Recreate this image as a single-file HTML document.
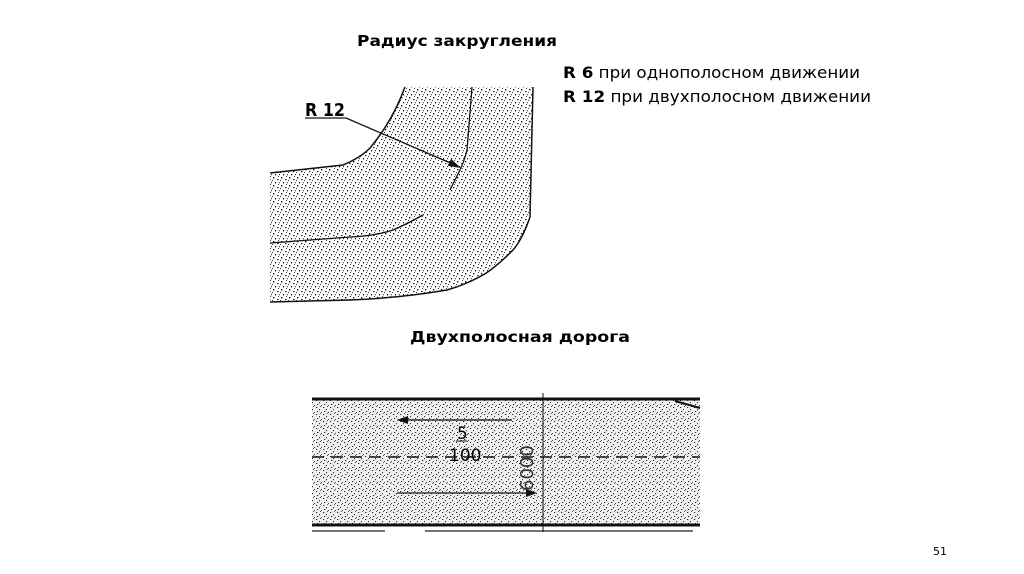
<!DOCTYPE html>
<html><head><meta charset="utf-8"><style>
html,body{margin:0;padding:0;background:#fff;}
svg{display:block;}
text{font-family:"DejaVu Sans","Liberation Sans",sans-serif;}
</style></head><body>
<svg width="1024" height="574" viewBox="0 0 1024 574" xmlns="http://www.w3.org/2000/svg">
<defs>
<pattern id="st" width="8" height="8" patternUnits="userSpaceOnUse">
<rect width="8" height="8" fill="#fff"/>
<rect x="1" y="1" width="1.4" height="1.4" fill="#111"/>
<rect x="5" y="3" width="1.5" height="1.1" fill="#222"/>
<rect x="3" y="6" width="1.1" height="1.4" fill="#111"/>
<rect x="7" y="6" width="1" height="1.2" fill="#333"/>
<rect x="6" y="0" width="1" height="1" fill="#444"/>
<rect x="0" y="4" width="1" height="1" fill="#333"/>
</pattern>
<pattern id="st2" width="7" height="7" patternUnits="userSpaceOnUse">
<rect width="7" height="7" fill="#f0f0f0"/>
<rect x="1" y="1" width="1.2" height="1" fill="#222"/>
<rect x="4" y="3" width="1" height="1.2" fill="#333"/>
<rect x="2" y="5" width="1.2" height="1" fill="#222"/>
<rect x="6" y="6" width="1" height="1" fill="#444"/>
<rect x="5" y="0" width="1" height="1" fill="#555"/>
</pattern>
</defs>

<text x="357" y="46" font-size="15" font-weight="bold" textLength="200" lengthAdjust="spacingAndGlyphs">Радиус закругления</text>
<text x="563" y="78" font-size="16" textLength="297" lengthAdjust="spacingAndGlyphs"><tspan font-weight="bold">R 6</tspan> при однополосном движении</text>
<text x="563" y="102" font-size="16" textLength="308" lengthAdjust="spacingAndGlyphs"><tspan font-weight="bold">R 12</tspan> при двухполосном движении</text>

<path d="M405,87 L533,87 L530,217 Q522,240 513,250 Q495,268 483,275 Q465,285 447,290 Q400,298 350,300 L270,302 L270,173 L343,165 Q360,158 370,148 Q390,120 395,110 Z" fill="url(#st)"/>
<path d="M405,87 Q400,100 395,110 Q385,130 370,148 Q360,158 343,165 L270,173" fill="none" stroke="#111" stroke-width="1.5"/>
<path d="M533,87 L530,217 Q522,240 513,250 Q495,268 483,275 Q465,285 447,290 Q400,298 350,300 L270,302" fill="none" stroke="#111" stroke-width="1.5"/>
<path d="M472,87 L467,150 Q464,162 460,170 L450,190" fill="none" stroke="#111" stroke-width="1.3"/>
<path d="M423,215 Q405,225 393,230 Q375,236 350,237 L270,243" fill="none" stroke="#111" stroke-width="1.3"/>
<line x1="305" y1="118" x2="346" y2="118" stroke="#111" stroke-width="1.3"/>
<line x1="346" y1="118" x2="455" y2="165" stroke="#111" stroke-width="1.3"/>
<polygon points="461,168 448,166 451,159" fill="#111"/>
<text x="305" y="116" font-size="18" font-weight="bold" textLength="40" lengthAdjust="spacingAndGlyphs">R 12</text>

<text x="410" y="342" font-size="15" font-weight="bold" textLength="220" lengthAdjust="spacingAndGlyphs">Двухполосная дорога</text>

<rect x="312" y="400" width="388" height="125" fill="url(#st2)"/>
<line x1="312" y1="399" x2="700" y2="399" stroke="#111" stroke-width="3"/>
<path d="M675,401 L700,408" stroke="#111" stroke-width="2"/>
<line x1="312" y1="525" x2="700" y2="525" stroke="#111" stroke-width="3"/>
<line x1="312" y1="531" x2="385" y2="531" stroke="#222" stroke-width="1.2"/>
<line x1="425" y1="531" x2="693" y2="531" stroke="#222" stroke-width="1.2"/>
<line x1="312" y1="457" x2="700" y2="457" stroke="#111" stroke-width="1.5" stroke-dasharray="12,7"/>
<line x1="543" y1="393" x2="543" y2="532" stroke="#111" stroke-width="1"/>
<line x1="402" y1="420" x2="512" y2="420" stroke="#111" stroke-width="1.3"/>
<polygon points="397,420 408,416 408,424" fill="#111"/>
<line x1="397" y1="493" x2="530" y2="493" stroke="#111" stroke-width="1.3"/>
<polygon points="537,493 526,489 526,497" fill="#111"/>
<text x="457" y="439" font-size="17" font-family="Liberation Sans">5</text>
<line x1="456" y1="441" x2="467" y2="441" stroke="#111" stroke-width="1"/>
<text x="449" y="461" font-size="17" font-family="Liberation Sans">100</text>
<text transform="translate(533,491) rotate(-90)" font-size="18" font-family="Liberation Sans" fill="#333">6000</text>

<text x="933" y="555" font-size="11">51</text>
</svg>
</body></html>
